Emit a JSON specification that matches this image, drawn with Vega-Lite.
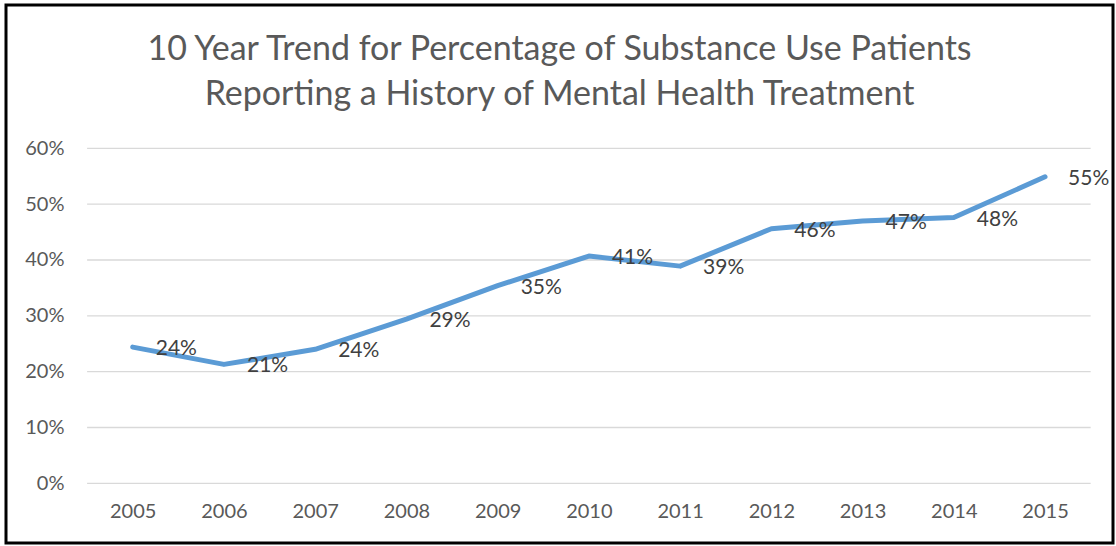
{
  "$schema": "https://vega.github.io/schema/vega-lite/v6.json",
  "width": 1107,
  "height": 538,
  "autosize": "none",
  "padding": {"left": 6, "top": 5, "right": 3, "bottom": 3},
  "background": "white",
  "config": {
    "font": "Lato",
    "view": {"stroke": "black", "strokeWidth": 3},
    "axisX": {"domain": false, "ticks": false, "grid": false, "offset": -60, "labelPadding": 18, "labelFontSize": 20, "labelColor": "#595959", "labelFont": "Lato"},
    "axisY": {"domain": false, "ticks": false, "grid": false, "offset": -82, "labelPadding": 24, "labelFontSize": 20, "labelColor": "#595959", "labelFont": "Lato"}
  },
  "title": {
    "text": ["10 Year Trend for Percentage of Substance Use Patients", "Reporting a History of Mental Health Treatment"],
    "anchor": "middle",
    "frame": "group",
    "baseline": "bottom",
    "fontSize": 34,
    "lineHeight": 45,
    "font": "Lato",
    "fontWeight": "normal",
    "color": "#595959",
    "offset": -141
  },
  "datasets": {
    "trend": [
      {"year": 2005, "pct": 0.244},
      {"year": 2006, "pct": 0.213},
      {"year": 2007, "pct": 0.240},
      {"year": 2008, "pct": 0.294},
      {"year": 2009, "pct": 0.354},
      {"year": 2010, "pct": 0.407},
      {"year": 2011, "pct": 0.389},
      {"year": 2012, "pct": 0.456},
      {"year": 2013, "pct": 0.470},
      {"year": 2014, "pct": 0.476},
      {"year": 2015, "pct": 0.549}
    ],
    "grid": [
      {"pct": 0}, {"pct": 0.1}, {"pct": 0.2}, {"pct": 0.3}, {"pct": 0.4}, {"pct": 0.5}, {"pct": 0.6}
    ]
  },
  "layer": [
    {
      "data": {"name": "grid"},
      "mark": {"type": "rule", "color": "#D9D9D9", "strokeWidth": 1.3},
      "encoding": {
        "y": {"field": "pct", "type": "quantitative", "title": null,
              "scale": {"domain": [-0.1069, 0.8567], "nice": false, "zero": false},
              "axis": {"values": [0, 0.1, 0.2, 0.3, 0.4, 0.5, 0.6], "format": ".0%"}},
        "x": {"datum": 2004.5, "type": "quantitative", "title": null,
              "scale": {"domain": [2003.611, 2015.745], "nice": false, "zero": false},
              "axis": {"values": [2005, 2006, 2007, 2008, 2009, 2010, 2011, 2012, 2013, 2014, 2015], "format": "d"}},
        "x2": {"datum": 2015.5}
      }
    },
    {
      "data": {"name": "trend"},
      "mark": {"type": "line", "color": "#5B9BD5", "strokeWidth": 5, "strokeCap": "round", "strokeJoin": "round"},
      "encoding": {
        "x": {"field": "year", "type": "quantitative", "title": null},
        "y": {"field": "pct", "type": "quantitative", "title": null}
      }
    },
    {
      "data": {"name": "trend"},
      "mark": {"type": "text", "align": "left", "baseline": "middle", "dx": 23, "dy": 2, "fontSize": 21, "color": "#404040", "font": "Lato"},
      "encoding": {
        "x": {"field": "year", "type": "quantitative", "title": null},
        "y": {"field": "pct", "type": "quantitative", "title": null},
        "text": {"field": "pct", "type": "quantitative", "format": ".0%"}
      }
    }
  ]
}
